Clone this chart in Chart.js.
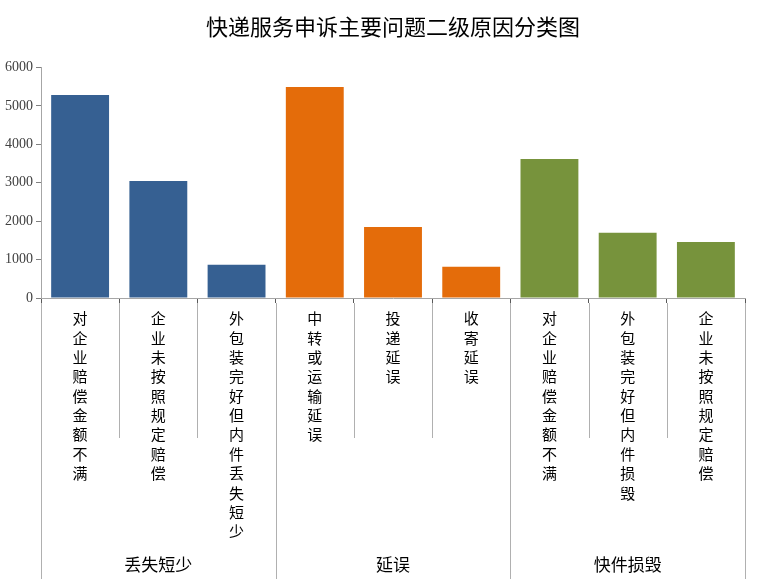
<!DOCTYPE html>
<html>
<head>
<meta charset="utf-8">
<title>快递服务申诉主要问题二级原因分类图</title>
<script src="https://cdn.jsdelivr.net/npm/chart.js@4.4.1/dist/chart.umd.min.js"></script>
<style>
  html, body { margin: 0; padding: 0; background: #fff; }
  #wrap { width: 779px; height: 579px; }
</style>
</head>
<body>
<div id="wrap"><canvas id="complaintChart"></canvas></div>
<script>
// data
var groups = ['丢失短少', '延误', '快件损毁'];
var categories = [
    '对企业赔偿金额不满', '企业未按照规定赔偿', '外包装完好但内件丢失短少',
    '中转或运输延误', '投递延误', '收寄延误',
    '对企业赔偿金额不满', '外包装完好但内件损毁', '企业未按照规定赔偿'
];
var groupOf = [0, 0, 0, 1, 1, 1, 2, 2, 2];
var counts = [5280, 3045, 865, 5490, 1850, 810, 3615, 1695, 1460];
var yTicks = [0, 1000, 2000, 3000, 4000, 5000, 6000];

var groupColors = ['#366092', '#E46C0A', '#77933C'];

// vertical labels: one character per line
var stacked = categories.map(function (c) { return c.split(''); });

// separator lines below the axis (inner ones short, group edges to the bottom)
var separators = {
    id: 'separators',
    afterDraw: function (chart) {
        var x = chart.scales.x;
        var ctx = chart.ctx;
        var half = (x.getPixelForValue(1) - x.getPixelForValue(0)) / 2;
        var top = x.top;
        ctx.save();
        ctx.strokeStyle = '#b0b0b0';
        ctx.lineWidth = 1;
        for (var i = 0; i <= categories.length; i++) {
            var px = (i < categories.length ? x.getPixelForValue(i) - half : x.getPixelForValue(i - 1) + half);
            var isGroupEdge = (i === 0 || i === categories.length || groupOf[i] !== groupOf[i - 1]);
            var bottom = isGroupEdge ? chart.height : top + 140;
            px = Math.round(px) + 0.5;
            ctx.beginPath();
            ctx.moveTo(px, top + 5);
            ctx.lineTo(px, bottom);
            ctx.stroke();
        }
        ctx.restore();
    }
};

var ctx = document.getElementById('complaintChart').getContext('2d');
new Chart(ctx, {
    type: 'bar',
    data: {
        labels: stacked,
        datasets: [{
            data: counts,
            backgroundColor: groupOf.map(function (g) { return groupColors[g]; }),
            borderWidth: 0,
            barPercentage: 0.74,
            categoryPercentage: 1
        }]
    },
    options: {
        responsive: true,
        maintainAspectRatio: false,
        animation: false,
        layout: { padding: { left: 0, right: 34, top: 0, bottom: 0 } },
        plugins: {
            legend: { display: false },
            tooltip: { enabled: false },
            title: {
                display: true,
                fullSize: false, // centre over the plot area, as in the original
                text: '快递服务申诉主要问题二级原因分类图',
                color: '#000',
                font: { family: '"Noto Sans CJK SC"', size: 22, weight: 'normal' },
                padding: { top: 13, bottom: 28 }
            }
        },
        scales: {
            x: {
                type: 'category',
                position: 'bottom',
                weight: 0,
                afterFit: function (scale) { scale.height = 241; },
                border: { display: true, color: '#a6a6a6' },
                grid: {
                    display: true,
                    offset: true,
                    drawOnChartArea: false,
                    drawTicks: true,
                    tickLength: 5,
                    color: '#595959'
                },
                ticks: {
                    autoSkip: false,
                    maxRotation: 0,
                    minRotation: 0,
                    padding: 6,
                    color: '#000',
                    font: { family: '"Noto Sans CJK SC"', size: 15, lineHeight: 1.29 }
                }
            },
            xg: {
                type: 'category',
                position: 'bottom',
                weight: 1,
                labels: groups,
                offset: true,
                afterFit: function (scale) { scale.height = 40; },
                border: { display: false },
                grid: { display: false, drawTicks: false },
                ticks: {
                    maxRotation: 0,
                    padding: 15,
                    color: '#000',
                    font: { family: '"Noto Sans CJK SC"', size: 17 }
                }
            },
            y: {
                min: 0,
                max: 6000,
                afterFit: function (scale) { scale.width = 41; },
                afterBuildTicks: function (scale) {
                    scale.ticks = yTicks.map(function (v) { return { value: v }; });
                },
                border: { display: true, color: '#a6a6a6' },
                grid: {
                    display: true,
                    drawOnChartArea: false,
                    drawTicks: true,
                    tickLength: 5,
                    color: '#808080'
                },
                ticks: {
                    padding: 3,
                    color: '#404040',
                    font: { family: '"Liberation Serif"', size: 14 },
                    callback: function (value) { return String(value); }
                }
            }
        }
    },
    plugins: [separators]
});
</script>
</body>
</html>
